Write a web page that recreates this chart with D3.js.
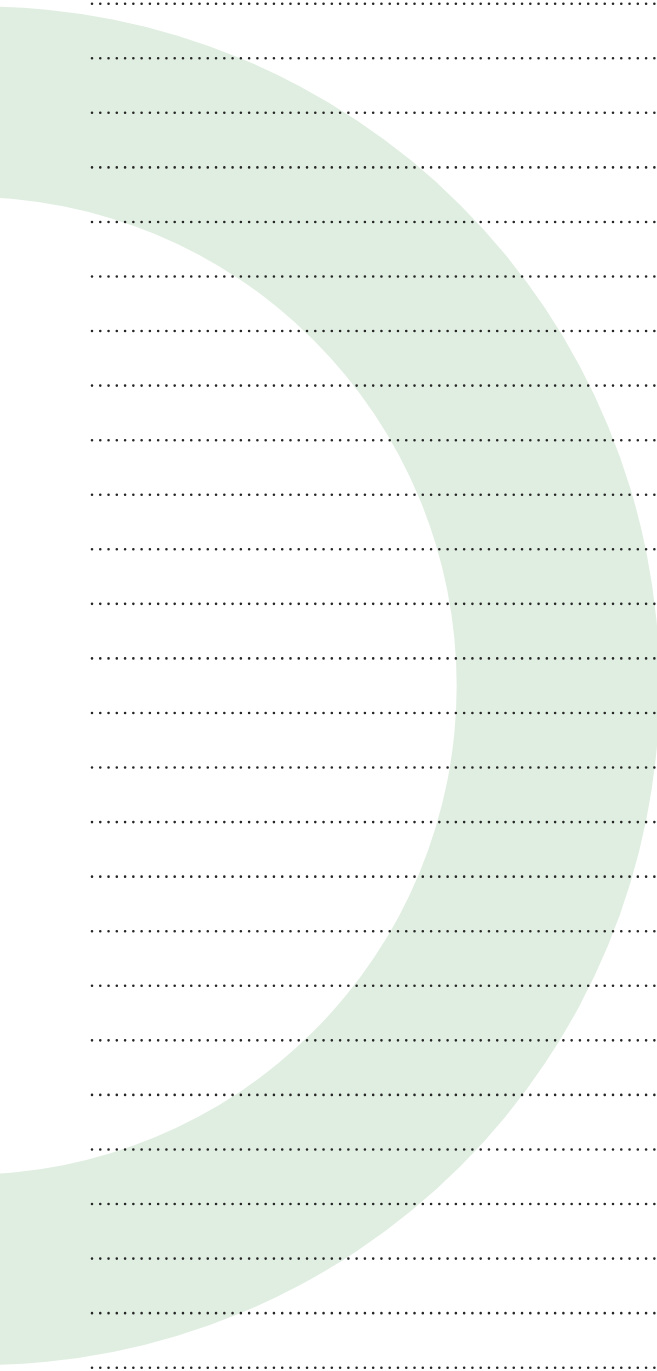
<!DOCTYPE html>
<html>
<head>
    <title>Ruled page</title>
    <style>
        html, body {
            margin: 0;
            padding: 0;
            background: #fff;
        }

        .ring {
            fill: #e0eee1;
            fill-rule: evenodd;
        }

        .rule {
            stroke: #262626;
            stroke-width: 2.6px;
            stroke-linecap: round;
            stroke-dasharray: 0 8.27;
            fill: none;
        }
    </style>
</head>
<body>
<div id="chart"></div>

<script src="https://d3js.org/d3.v7.min.js"></script>
<script>
    // row numbers of the dotted rules
    const rows = [0, 1, 2, 3, 4, 5, 6, 7, 8, 9, 10, 11, 12,
                  13, 14, 15, 16, 17, 18, 19, 20, 21, 22, 23, 24, 25];

    // the green band: outer and inner edge, in row units
    const ringEdges = ["outer", "inner"];
    const ringRadius = [12.45, 8.96];
    const ringCenterX = [-0.36, -0.59];

    const width = 657;
    const height = 1371;

    const svg = d3.select('#chart').append('svg')
        .attr('width', width)
        .attr('height', height);

    const y = d3.scaleLinear()
        .domain([0, 25])
        .range([3.7, 1367.7]);

    // one row unit in pixels, used for the band radius
    const unit = y(1) - y(0);
    const midRow = 12.5;

    const band = d3.path();
    ringEdges.forEach((edge, i) => {
        const cx = ringCenterX[i] * unit;
        const r = ringRadius[i] * unit;
        const cy = y(midRow);
        band.moveTo(cx + r, cy);
        band.arc(cx, cy, r, 0, Math.PI * 2);
        band.closePath();
    });

    svg.append('path')
        .attr('class', 'ring')
        .attr('d', band.toString());

    svg.append('g')
        .selectAll('line')
        .data(rows)
        .join('line')
        .attr('class', 'rule')
        .attr('x1', 92)
        .attr('x2', width + 4)
        .attr('y1', d => y(d))
        .attr('y2', d => y(d));
</script>
</body>
</html>
